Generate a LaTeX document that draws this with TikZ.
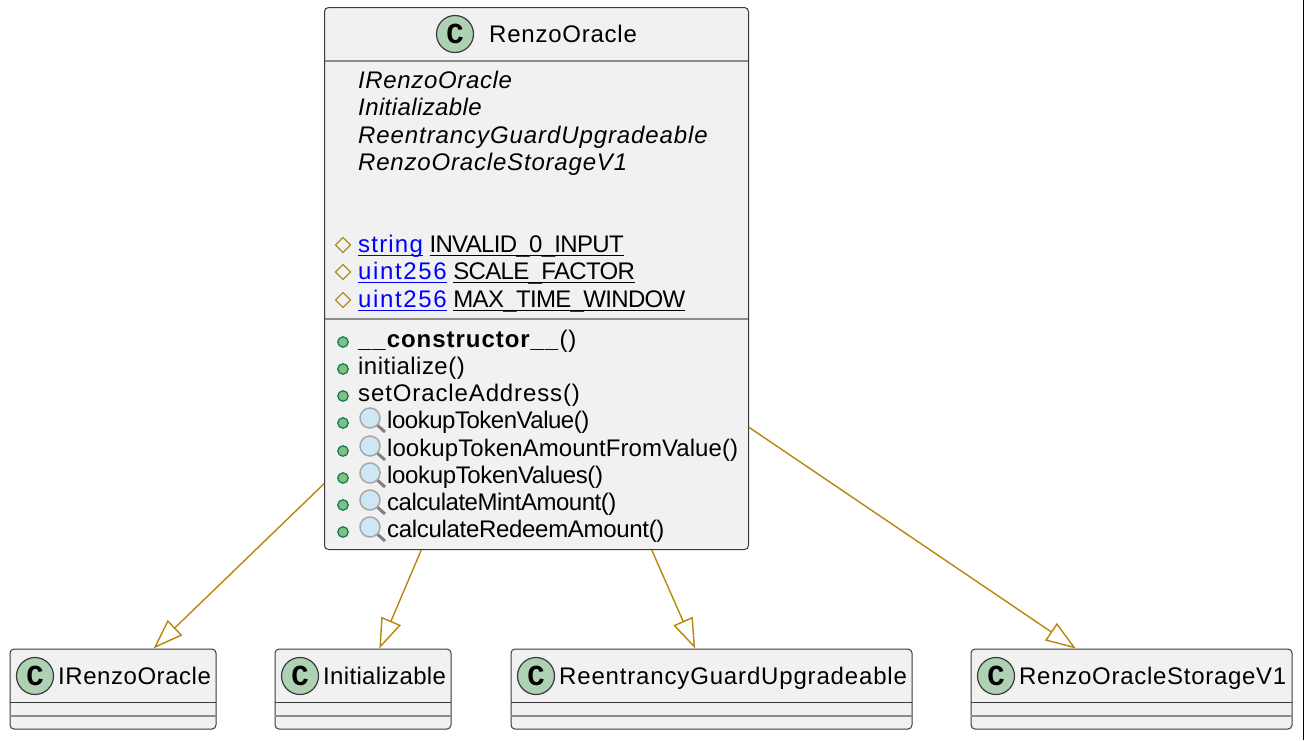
\documentclass[tikz,border=0pt]{standalone}
\usepackage{fontspec}
\setmainfont{Liberation Sans}
\newfontfamily\iconfont{Liberation Mono}[Scale=1]
\usetikzlibrary{arrows.meta,shapes.geometric}

\definecolor{boxfill}{HTML}{F1F1F1}
\definecolor{boxline}{HTML}{3A3A3A}
\definecolor{rulegray}{HTML}{8C8C8C}
\definecolor{extendline}{HTML}{B8860B}
\definecolor{iconfill}{HTML}{ADD1B2}
\definecolor{publicfill}{HTML}{84BE84}
\definecolor{publicline}{HTML}{038048}
\definecolor{fieldline}{HTML}{B38D22}
\definecolor{lensfill}{HTML}{CFE6F5}
\definecolor{lensline}{HTML}{A8A8A8}
\definecolor{lenshandle}{HTML}{808080}

\newcommand{\underl}[1]{\setbox0\hbox{#1}\rlap{\rule[-3.8pt]{\wd0}{1.3pt}}\box0}
\newcommand{\tlink}[1]{\textcolor{blue}{\underl{#1}}}

\tikzset{
  classbox/.style={draw=boxline, fill=boxfill, line width=1pt, rounded corners=4pt, inner sep=0pt},
  classicon/.style={circle, draw=boxline, fill=iconfill, line width=1.2pt, minimum size=37pt, inner sep=0pt,
    font=\fontsize{29}{29}\selectfont\iconfont\bfseries},
  title/.style={anchor=base west, inner sep=0pt, font=\fontsize{24}{27}\selectfont},
  parent/.style={anchor=base west, inner sep=0pt, font=\fontsize{24}{27}\selectfont\itshape},
  member/.style={anchor=base west, inner sep=0pt, font=\fontsize{24}{27}\selectfont},
  field/.style={draw=fieldline, line width=1.3pt, diamond, minimum size=15.5pt, inner sep=0pt},
  method/.style={circle, draw=publicline, fill=publicfill, line width=1.2pt, minimum size=10.5pt, inner sep=0pt},
  extends/.style={draw=extendline, line width=1.4pt,
    -{Triangle[open, length=30pt, width=21pt, fill=white]}},
}

\begin{document}
\begin{tikzpicture}[x=1pt, y=-1pt]
\useasboundingbox (0,0) rectangle (1304,740);

% main class
\node[classbox, minimum width=424pt, minimum height=542pt] (oracle) at (536.5,278.5) {};
\draw[rulegray, line width=1.4pt] (325,61) -- (748,61);
\draw[rulegray, line width=1.4pt] (325,319) -- (748,319);
\node[classicon] (oracleicon) at (455,34) {C};
\node[title] (oracletitle) at (489,42) {\addfontfeature{LetterSpace=3.2}RenzoOracle};

\foreach \y/\ls/\name in {88/2.7/IRenzoOracle, 115/1.7/Initializable, 143/3.8/ReentrancyGuardUpgradeable, 170/3.4/RenzoOracleStorageV1}
  \node[parent] (parent\y) at (358,\y) {\addfontfeature{LetterSpace=\ls}\name};

% fields
\foreach \y/\ty/\ls/\name in {252/string/5/INVALID\_0\_INPUT, 279/uint256/6.8/SCALE\_FACTOR, 307/uint256/6.8/MAX\_TIME\_WINDOW} {
  \node[field] (fieldicon\y) at (343,\y-7) {};
  \node[member] (field\y) at (358,\y) {\tlink{\addfontfeature{LetterSpace=\ls}\ty} \underl{\addfontfeature{LetterSpace=-2.8}\name}};
}

% methods
\node[method] (methodicon347) at (343,342) {};
\node[member] (method347) at (358,347) {\addfontfeature{LetterSpace=4}\textbf{\_\_constructor\_\_}()};
\foreach \y/\ls/\name in {374/2/initialize(), 401/3.7/setOracleAddress()} {
  \node[method] (methodicon\y) at (343,\y-5) {};
  \node[member] (method\y) at (358,\y) {\addfontfeature{LetterSpace=\ls}\name};
}
\foreach \y/\ls/\name in {428/-2/lookupTokenValue(), 456/0.3/lookupTokenAmountFromValue(), 483/-1.5/lookupTokenValues(), 510/-2/calculateMintAmount(), 537/-1.3/calculateRedeemAmount()} {
  \node[method] (methodicon\y) at (343,\y-5) {};
  \draw[lenshandle, line width=3pt] (376,\y-4) -- (385,\y+4);
  \draw[lensline, line width=1.5pt, fill=lensfill] (370,\y-10) circle (10);
  \node[member] (method\y) at (387,\y) {\addfontfeature{LetterSpace=\ls}\name};
}

% parents
\foreach \n/\cx/\w/\tx/\ls/\name in {irenzo/113/206/58/2.3/IRenzoOracle, initable/363/176/323/1.4/Initializable, guard/711.5/401/559/3.5/ReentrancyGuardUpgradeable, storage/1131.5/321/1019/3/RenzoOracleStorageV1} {
  \node[classbox, minimum width=\w pt, minimum height=80pt] (\n) at (\cx,689) {};
  \draw[boxline, line width=0.9pt] (\cx-\w/2,702) -- (\cx+\w/2,702);
  \draw[rulegray, line width=1.4pt] (\cx-\w/2,716) -- (\cx+\w/2,716);
  \node[classicon] (\n icon) at (\cx-\w/2+25,676) {C};
  \node[title] (\n title) at (\tx,684) {\addfontfeature{LetterSpace=\ls}\name};
}

\draw[extends] (oracle.224.2) -- (irenzo.45);
\draw[extends] (oracle.247) -- (initable.68.2);
\draw[extends] (oracle.293) -- (guard.112.4);
\draw[extends] (oracle.325.3) -- (storage.144.7);

\draw[black, line width=1pt] (1303.5,0) -- (1303.5,740);
\end{tikzpicture}
\end{document}
